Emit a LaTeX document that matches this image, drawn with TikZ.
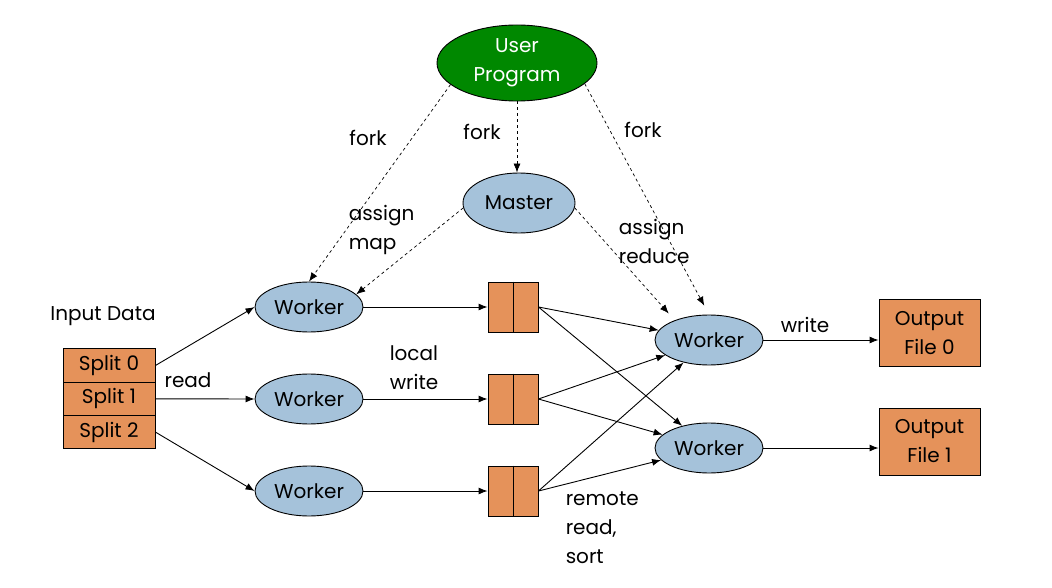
\documentclass[tikz,border=0pt]{standalone}
\usepackage{fontspec}
\setmainfont{Poppins}
\usetikzlibrary{arrows.meta,shapes.geometric}
\definecolor{wblue}{RGB}{165,194,218}
\definecolor{sorange}{RGB}{229,146,90}
\definecolor{ugreen}{RGB}{0,136,0}

\begin{document}
\begin{tikzpicture}[x=1pt,y=-1pt,line width=0.9pt,
    every node/.style={font=\fontsize{20}{29}\selectfont},
    worker/.style={ellipse,draw,fill=wblue,minimum width=108,minimum height=50,inner sep=0},
    split/.style={rectangle,draw,fill=sorange,minimum width=92,minimum height=33.3,inner sep=0},
    buf/.style={rectangle,draw,fill=sorange,minimum width=50,minimum height=50,inner sep=0},
    outfile/.style={rectangle,draw,fill=sorange,minimum width=101,minimum height=67,inner sep=0,align=center},
    arr/.style={-{Latex[length=9pt,width=7pt]}},
    darr/.style={arr,dashed,line width=0.7pt}]
  \useasboundingbox (0,0) rectangle (1052,588);

  % user program and master
  \node[ellipse,draw,fill=ugreen,text=white,align=center,minimum width=160,minimum height=76,inner sep=0] (user) at (517,63) {User\\Program};
  \node[worker,minimum width=112,minimum height=60] (master) at (519,203) {Master};

  % input splits
  \node (input) at (103,316) {Input Data};
  \node[split] (s0) at (109,365.5) {Split 0};
  \node[split] (s1) at (109,398.8) {Split 1};
  \node[split] (s2) at (109,432.1) {Split 2};

  % map workers and their local buffers
  \foreach \i/\y in {1/307,2/399,3/491}{
    \node[worker] (w\i) at (309,\y) {Worker};
    \node[buf] (b\i) at (513,\y) {};
    \draw (b\i.north) -- (b\i.south);
    \draw[arr] (w\i) -- (b\i);
  }

  % reduce workers and output files
  \node[worker] (r1) at (709,340) {Worker};
  \node[worker] (r2) at (709,448) {Worker};
  \node[outfile] (o1) at (929.5,333) {Output\\File 0};
  \node[outfile] (o2) at (929.5,441.5) {Output\\File 1};

  \draw[arr] (s0.east) -- (w1.west);
  \draw[arr] (s1.east) -- (w2.west);
  \draw[arr] (s2.east) -- (w3.west);
  \node at (188,380) {read};
  \node[align=left] at (414,368) {local\\write};

  \foreach \i in {1,2,3}{
    \draw[arr] (b\i.east) -- (r1);
    \draw[arr] (b\i.east) -- (r2);
  }
  \node[align=left,anchor=west] at (562,528) {remote\\read,\\sort};

  \draw[arr] (r1.east) -- (r1.east -| o1.west);
  \draw[arr] (r2.east) -- (r2.east -| o2.west);
  \node at (805,325) {write};

  % fork and assign
  \draw[darr] (user.-162) -- (w1.north);
  \draw[darr] (user.south) -- (user.south |- master.north);
  \draw[darr,shorten >=10pt] (user.-17) -- (r1.north);
  \draw[darr] (master.185) -- (w1.15);
  \draw[darr,shorten >=9pt] (master.-5) -- (r1.150);
  \node at (368,138) {fork};
  \node at (482,132) {fork};
  \node at (643,130) {fork};
  \node[align=left,anchor=west] at (345,230) {assign\\map};
  \node[align=left,anchor=west] at (615,241) {assign\\reduce};
\end{tikzpicture}
\end{document}
